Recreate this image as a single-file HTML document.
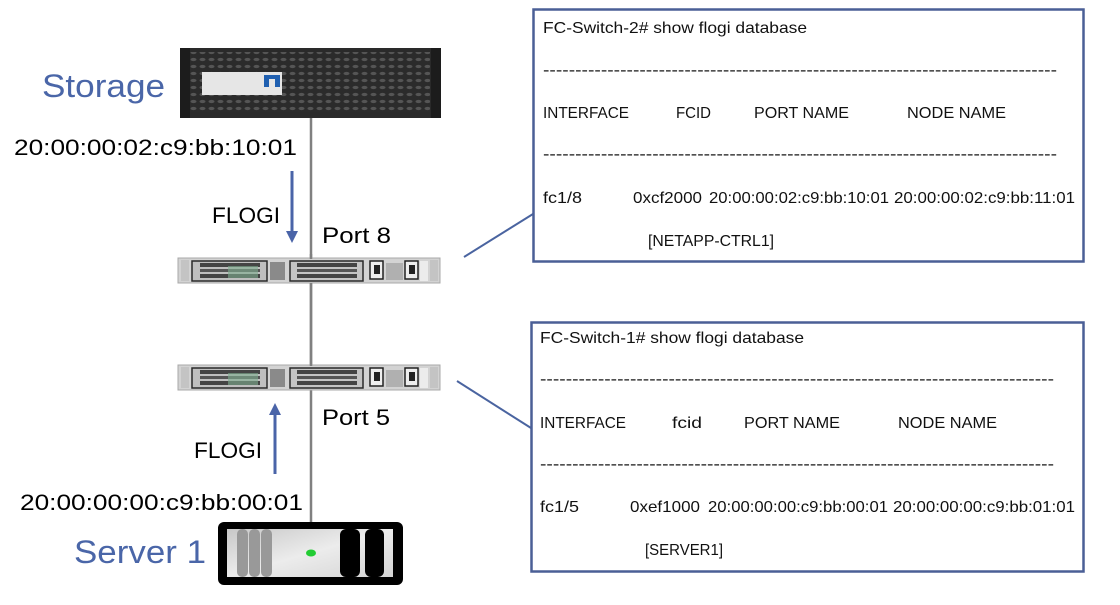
<!DOCTYPE html>
<html><head><meta charset="utf-8"><style>
html,body{margin:0;padding:0;background:#fff;}
svg{display:block;}
text{font-family:"Liberation Sans",sans-serif;}
</style></head><body>
<svg width="1120" height="605" viewBox="0 0 1120 605" xmlns="http://www.w3.org/2000/svg">
<defs>
<pattern id="mesh" width="9" height="7" patternUnits="userSpaceOnUse">
<rect width="9" height="7" fill="#2b2b2b"/>
<ellipse cx="4.5" cy="3.5" rx="3" ry="1.6" fill="#555"/>
</pattern>
<linearGradient id="srv" x1="0" y1="0" x2="1" y2="1">
<stop offset="0" stop-color="#c8c8c8"/><stop offset="0.5" stop-color="#ececec"/><stop offset="1" stop-color="#d4d4d4"/>
</linearGradient>
</defs>

<!-- vertical link -->
<line x1="311" y1="117" x2="311" y2="522" stroke="#808080" stroke-width="2.5"/>

<!-- storage -->
<rect x="180" y="48" width="261" height="70" fill="#2a2a2a"/>
<rect x="190" y="52" width="240" height="60" fill="url(#mesh)"/>
<rect x="180" y="48" width="10" height="70" fill="#1c1c1c"/>
<rect x="431" y="48" width="10" height="70" fill="#1c1c1c"/>
<rect x="202" y="72" width="80" height="23" fill="#e6e6e6"/>
<rect x="264" y="75" width="16" height="12" fill="#1f5fb0"/>
<rect x="269" y="79" width="6" height="8" fill="#e6e6e6"/>

<!-- switch top -->
<g>
<rect x="178" y="258" width="262" height="25" fill="#d3d3d3" stroke="#a8a8a8"/>
<rect x="181" y="260" width="8" height="21" fill="#c4c4c4"/>
<rect x="430" y="260" width="8" height="21" fill="#c4c4c4"/>
<rect x="192" y="261" width="75" height="20" fill="#bfbfbf" stroke="#2a2a2a" stroke-width="1.5"/>
<rect x="200" y="263" width="60" height="4" fill="#444"/>
<rect x="200" y="269" width="60" height="3" fill="#555"/>
<rect x="200" y="274" width="60" height="4" fill="#444"/>
<rect x="228" y="266" width="30" height="12" fill="#7fae8f" opacity="0.6"/>
<rect x="270" y="262" width="15" height="18" fill="#8a8a8a"/>
<rect x="290" y="261" width="73" height="20" fill="#c4c4c4" stroke="#2a2a2a" stroke-width="1.5"/>
<rect x="297" y="263" width="60" height="4" fill="#444"/>
<rect x="297" y="269" width="60" height="3" fill="#555"/>
<rect x="297" y="274" width="60" height="4" fill="#444"/>
<rect x="370" y="261" width="13" height="18" fill="#eee" stroke="#222" stroke-width="1.5"/>
<rect x="374" y="265" width="6" height="9" fill="#222"/>
<rect x="386" y="263" width="17" height="17" fill="#b0b0b0"/>
<rect x="405" y="261" width="13" height="18" fill="#eee" stroke="#222" stroke-width="1.5"/>
<rect x="409" y="265" width="6" height="9" fill="#222"/>
<rect x="420" y="261" width="8" height="20" fill="#ececec"/>
</g>
<!-- switch bottom -->
<g transform="translate(0,107)">
<rect x="178" y="258" width="262" height="25" fill="#d3d3d3" stroke="#a8a8a8"/>
<rect x="181" y="260" width="8" height="21" fill="#c4c4c4"/>
<rect x="430" y="260" width="8" height="21" fill="#c4c4c4"/>
<rect x="192" y="261" width="75" height="20" fill="#bfbfbf" stroke="#2a2a2a" stroke-width="1.5"/>
<rect x="200" y="263" width="60" height="4" fill="#444"/>
<rect x="200" y="269" width="60" height="3" fill="#555"/>
<rect x="200" y="274" width="60" height="4" fill="#444"/>
<rect x="228" y="266" width="30" height="12" fill="#7fae8f" opacity="0.6"/>
<rect x="270" y="262" width="15" height="18" fill="#8a8a8a"/>
<rect x="290" y="261" width="73" height="20" fill="#c4c4c4" stroke="#2a2a2a" stroke-width="1.5"/>
<rect x="297" y="263" width="60" height="4" fill="#444"/>
<rect x="297" y="269" width="60" height="3" fill="#555"/>
<rect x="297" y="274" width="60" height="4" fill="#444"/>
<rect x="370" y="261" width="13" height="18" fill="#eee" stroke="#222" stroke-width="1.5"/>
<rect x="374" y="265" width="6" height="9" fill="#222"/>
<rect x="386" y="263" width="17" height="17" fill="#b0b0b0"/>
<rect x="405" y="261" width="13" height="18" fill="#eee" stroke="#222" stroke-width="1.5"/>
<rect x="409" y="265" width="6" height="9" fill="#222"/>
<rect x="420" y="261" width="8" height="20" fill="#ececec"/>
</g>
<line x1="311" y1="283" x2="311" y2="366" stroke="#808080" stroke-width="2.5"/>
<line x1="311" y1="254" x2="311" y2="259" stroke="#808080" stroke-width="2.5"/>

<!-- server -->
<rect x="218" y="522" width="185" height="63" rx="6" fill="#000"/>
<rect x="227" y="529" width="166" height="48" fill="url(#srv)"/>
<rect x="237" y="529" width="11" height="48" rx="5" fill="#999"/>
<rect x="249" y="529" width="11" height="48" rx="5" fill="#999"/>
<rect x="261" y="529" width="11" height="48" rx="5" fill="#999"/>
<ellipse cx="311" cy="553" rx="5" ry="3.5" fill="#22cc33"/>
<rect x="340" y="529" width="20" height="48" rx="6" fill="#000"/>
<rect x="365" y="529" width="19" height="48" rx="6" fill="#000"/>

<!-- arrows -->
<line x1="292" y1="171" x2="292" y2="233" stroke="#4a64a8" stroke-width="3"/>
<polygon points="286,231 298,231 292,243" fill="#4a64a8"/>
<line x1="275" y1="413" x2="275" y2="474" stroke="#4a64a8" stroke-width="3"/>
<polygon points="269,415 281,415 275,403" fill="#4a64a8"/>

<!-- connectors -->
<line x1="464" y1="257" x2="533" y2="214" stroke="#4a64a0" stroke-width="2"/>
<line x1="457" y1="381" x2="531" y2="428" stroke="#4a64a0" stroke-width="2"/>

<!-- left labels -->
<text x="42" y="97" font-size="32" fill="#4a66a8" textLength="123" lengthAdjust="spacingAndGlyphs">Storage</text>
<text x="74" y="563" font-size="32" fill="#4a66a8" textLength="132" lengthAdjust="spacingAndGlyphs">Server 1</text>
<text x="14" y="155" font-size="22" fill="#000" textLength="283" lengthAdjust="spacingAndGlyphs">20:00:00:02:c9:bb:10:01</text>
<text x="212" y="223" font-size="22" fill="#000" textLength="68" lengthAdjust="spacingAndGlyphs">FLOGI</text>
<text x="322" y="243" font-size="22" fill="#000" textLength="69" lengthAdjust="spacingAndGlyphs">Port 8</text>
<text x="322" y="425" font-size="22" fill="#000" textLength="68" lengthAdjust="spacingAndGlyphs">Port 5</text>
<text x="194" y="458" font-size="22" fill="#000" textLength="68" lengthAdjust="spacingAndGlyphs">FLOGI</text>
<text x="20" y="510" font-size="22" fill="#000" textLength="283" lengthAdjust="spacingAndGlyphs">20:00:00:00:c9:bb:00:01</text>

<!-- top box -->
<rect x="533.5" y="9.5" width="550" height="252" fill="#fff" stroke="#4a5f96" stroke-width="2.5"/>
<g font-size="16" fill="#111">
<text x="543" y="33" textLength="264" lengthAdjust="spacingAndGlyphs">FC-Switch-2# show flogi database</text>
<text x="543" y="75" textLength="514" lengthAdjust="spacingAndGlyphs">--------------------------------------------------------------------------------</text>
<text x="543" y="118" textLength="86" lengthAdjust="spacingAndGlyphs">INTERFACE</text>
<text x="676" y="118" textLength="35" lengthAdjust="spacingAndGlyphs">FCID</text>
<text x="754" y="118" textLength="95" lengthAdjust="spacingAndGlyphs">PORT NAME</text>
<text x="907" y="118" textLength="99" lengthAdjust="spacingAndGlyphs">NODE NAME</text>
<text x="543" y="159" textLength="514" lengthAdjust="spacingAndGlyphs">--------------------------------------------------------------------------------</text>
<text x="543" y="203" textLength="39" lengthAdjust="spacingAndGlyphs">fc1/8</text>
<text x="633" y="203" textLength="69" lengthAdjust="spacingAndGlyphs">0xcf2000</text>
<text x="709" y="203" textLength="180" lengthAdjust="spacingAndGlyphs">20:00:00:02:c9:bb:10:01</text>
<text x="894" y="203" textLength="181" lengthAdjust="spacingAndGlyphs">20:00:00:02:c9:bb:11:01</text>
<text x="648" y="246" textLength="126" lengthAdjust="spacingAndGlyphs">[NETAPP-CTRL1]</text>
</g>

<!-- bottom box -->
<rect x="531.5" y="322.5" width="552" height="249" fill="#fff" stroke="#4a5f96" stroke-width="2.5"/>
<g font-size="16" fill="#111">
<text x="540" y="343" textLength="264" lengthAdjust="spacingAndGlyphs">FC-Switch-1# show flogi database</text>
<text x="540" y="384" textLength="514" lengthAdjust="spacingAndGlyphs">--------------------------------------------------------------------------------</text>
<text x="540" y="428" textLength="86" lengthAdjust="spacingAndGlyphs">INTERFACE</text>
<text x="672" y="428" textLength="30" lengthAdjust="spacingAndGlyphs">fcid</text>
<text x="744" y="428" textLength="96" lengthAdjust="spacingAndGlyphs">PORT NAME</text>
<text x="898" y="428" textLength="99" lengthAdjust="spacingAndGlyphs">NODE NAME</text>
<text x="540" y="469" textLength="514" lengthAdjust="spacingAndGlyphs">--------------------------------------------------------------------------------</text>
<text x="540" y="512" textLength="39" lengthAdjust="spacingAndGlyphs">fc1/5</text>
<text x="630" y="512" textLength="70" lengthAdjust="spacingAndGlyphs">0xef1000</text>
<text x="708" y="512" textLength="180" lengthAdjust="spacingAndGlyphs">20:00:00:00:c9:bb:00:01</text>
<text x="893" y="512" textLength="182" lengthAdjust="spacingAndGlyphs">20:00:00:00:c9:bb:01:01</text>
<text x="645" y="555" textLength="78" lengthAdjust="spacingAndGlyphs">[SERVER1]</text>
</g>
</svg>
</body></html>
